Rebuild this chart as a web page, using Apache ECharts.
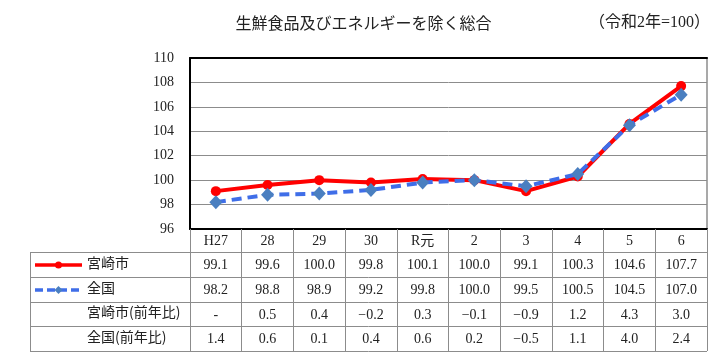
<!DOCTYPE html>
<html><head><meta charset="utf-8">
<script src="https://cdn.jsdelivr.net/npm/echarts@6/dist/echarts.min.js"></script>
<style>html,body{margin:0;padding:0;background:#fff}#c{width:727px;height:360px}</style>
</head><body><div id="c"></div>
<script>
const categories = ['H27','28','29','30','R元','2','3','4','5','6'];
const miyazaki = [99.1,99.6,100.0,99.8,100.1,100.0,99.1,100.3,104.6,107.7];
const zenkoku = [98.2,98.8,98.9,99.2,99.8,100.0,99.5,100.5,104.5,107.0];
const miyazakiYoY = [null,0.5,0.4,-0.2,0.3,-0.1,-0.9,1.2,4.3,3.0];
const zenkokuYoY = [1.4,0.6,0.1,0.4,0.6,0.2,-0.5,1.1,4.0,2.4];
const yMin = 96, yMax = 110, yStep = 2;
const rowLabels = ['宮崎市','全国','宮崎市(前年比)','全国(前年比)'];
const rowData = [miyazaki, zenkoku, miyazakiYoY, zenkokuYoY];
const titleText = '生鮮食品及びエネルギーを除く総合';
const baseText = '（令和2年=100）';

const FONT = "'Liberation Serif', 'Noto Sans CJK JP', serif";
const TXT = '#222';
const GRAY = '#8c8c8c';
const fmt = v => v == null ? '-' : (v < 0 ? '−' + Math.abs(v).toFixed(1) : v.toFixed(1));

const G = {left:190, right:20, top:58, bottom:131};
const gridBottomY = 360 - G.bottom; // 229
const rowTops = [252, 277, 302, 326];
const tableBottom = 351;
const tableLeft = 30;
const tableRight = 727 - G.right;

const xAxes = [{
  type:'category', data:categories, position:'bottom', boundaryGap:true,
  axisLine:{show:true, lineStyle:{color:'#000', width:2}},
  axisTick:{show:true, interval:0, length:rowTops[0]-gridBottomY, lineStyle:{color:GRAY, width:1}},
  axisLabel:{interval:0, margin:5, fontSize:14, color:TXT, fontFamily:FONT},
  splitLine:{show:false}
}, {
  type:'category', data:categories, position:'top', boundaryGap:true,
  axisLine:{show:true, lineStyle:{color:'#000', width:2}},
  axisTick:{show:false}, axisLabel:{show:false}
}];
rowData.forEach((arr, r) => {
  const top = rowTops[r];
  const bot = r < 3 ? rowTops[r+1] : tableBottom;
  xAxes.push({
    type:'category', data:categories, position:'bottom', offset: top - gridBottomY, boundaryGap:true,
    axisLine:{show:false},
    axisTick:{show:true, interval:0, length: bot - top, lineStyle:{color:GRAY, width:1}},
    axisLabel:{interval:0, margin:6, fontSize:14, color:TXT, fontFamily:FONT,
      formatter:(v, i) => fmt(arr[i])}
  });
});

const graphics = [];
[...rowTops, tableBottom].forEach(y => {
  graphics.push({type:'line', shape:{x1:tableLeft, y1:y+0.5, x2:tableRight, y2:y+0.5},
    style:{stroke:GRAY, lineWidth:1}, z:10});
});
graphics.push({type:'line', shape:{x1:tableLeft+0.5, y1:rowTops[0], x2:tableLeft+0.5, y2:tableBottom+1},
  style:{stroke:GRAY, lineWidth:1}, z:10});
rowLabels.forEach((t, r) => {
  const top = rowTops[r];
  const bot = r < 3 ? rowTops[r+1] : tableBottom;
  graphics.push({type:'text', left:87, top:(top+bot)/2 - 9,
    style:{text:t, font:"14px 'Noto Sans CJK JP'", fill:TXT}, z:10});
});
// legend glyphs
const c1 = (rowTops[0]+rowTops[1])/2 + 0.5, c2 = (rowTops[1]+rowTops[2])/2 + 0.5;
graphics.push({type:'line', shape:{x1:35, y1:c1, x2:82, y2:c1}, style:{stroke:'#ff0000', lineWidth:3.5}, z:10});
graphics.push({type:'circle', shape:{cx:58.5, cy:c1, r:3.5}, style:{fill:'#ff0000'}, z:11});
graphics.push({type:'line', shape:{x1:35, y1:c2, x2:82, y2:c2}, style:{stroke:'#3f6ee8', lineWidth:3.5, lineDash:[8,4]}, z:10});
graphics.push({type:'polygon', shape:{points:[[58.5,c2-4],[62.5,c2],[58.5,c2+4],[54.5,c2]]}, style:{fill:'#4a7fc0'}, z:11});

const chart = echarts.init(document.getElementById('c'), null, {renderer:'canvas'});
chart.setOption({
  animation:false,
  backgroundColor:'#fff',
  title:[
    {text:titleText, left:'center', top:10, textStyle:{fontSize:16, fontWeight:'normal', color:TXT, fontFamily:"'Noto Sans CJK JP'"}},
    {text:baseText, right:12, top:10, textStyle:{fontSize:16, fontWeight:'normal', color:TXT, fontFamily:FONT}}
  ],
  grid:{left:G.left, right:G.right, top:G.top, bottom:G.bottom, containLabel:false},
  xAxis: xAxes,
  yAxis:[{
    type:'value', min:yMin, max:yMax, interval:yStep,
    axisLine:{show:true, lineStyle:{color:'#000', width:2}},
    axisTick:{show:false},
    axisLabel:{margin:16, fontSize:14, color:TXT, fontFamily:FONT},
    splitLine:{show:true, lineStyle:{color:GRAY, width:1}}
  }, {
    type:'value', min:yMin, max:yMax, interval:yStep, position:'right',
    axisLine:{show:true, lineStyle:{color:GRAY, width:1.5}},
    axisTick:{show:false}, axisLabel:{show:false}, splitLine:{show:false}
  }],
  graphic: graphics,
  series:[{
    name:'宮崎市', type:'line', data:miyazaki, xAxisIndex:0, yAxisIndex:0,
    symbol:'circle', symbolSize:10,
    lineStyle:{color:'#ff0000', width:4},
    itemStyle:{color:'#ff0000'}, z:3
  }, {
    name:'全国', type:'line', data:zenkoku, xAxisIndex:0, yAxisIndex:0,
    symbol:'diamond', symbolSize:[13,14],
    lineStyle:{color:'#3f6ee8', width:4, type:[10,6]},
    itemStyle:{color:'#4a7fc0'}, z:4
  }]
});
</script></body></html>
